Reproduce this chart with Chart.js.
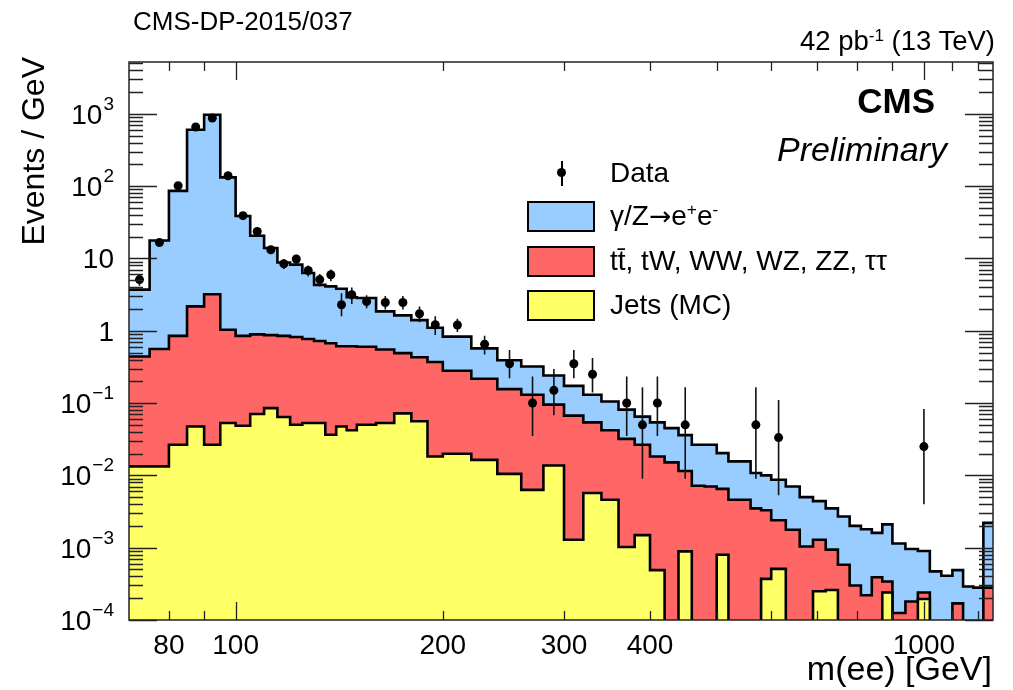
<!DOCTYPE html>
<html>
<head>
<meta charset="utf-8">
<title>m(ee) spectrum</title>
<script src="https://cdn.jsdelivr.net/npm/chart.js@4.4.1/dist/chart.umd.min.js"></script>
<style>
    body { margin: 0; background: #fff; }
    #wrap { position: relative; width: 1013px; height: 690px; overflow: hidden;
            font-family: "Liberation Sans", Arial, Helvetica, sans-serif; color: #000; }
    #mass-chart { position: absolute; left: 0; top: 0; }
    .txt { position: absolute; white-space: nowrap; line-height: 1; }
    .txt sup { font-size: 0.62em; position: relative; top: -0.55em; vertical-align: baseline; line-height: 0; }
    #label-dp { left: 133px; top: 8px; font-size: 26px; }
    #label-lumi { right: 18px; top: 27px; font-size: 27.5px; }
    #label-cms { right: 78px; top: 83px; font-size: 35px; font-weight: bold; }
    #label-prelim { right: 66px; top: 132px; font-size: 34px; font-style: italic; }
    #title-x { right: 21px; top: 651px; font-size: 34px; }
    #title-y { left: 17px; top: 257px; width: 200px; text-align: right; font-size: 32px;
               transform-origin: 0 0; transform: rotate(-90deg); }
    .lg-box { position: absolute; left: 527px; width: 68px; height: 31px;
              border: 2px solid #000; box-sizing: border-box; }
    .lg-text { position: absolute; left: 610px; font-size: 28px; line-height: 1; white-space: nowrap; }
    .lg-text sup { font-size: 0.62em; position: relative; top: -0.55em; vertical-align: baseline; line-height: 0; }
    .arrow { font-family: "DejaVu Sans", sans-serif; font-size: 0.95em; }
    #lg-dot { position: absolute; left: 557px; top: 168px; width: 9px; height: 9px; border-radius: 50%; background: #000; }
    #lg-bar { position: absolute; left: 561px; top: 161px; width: 1.6px; height: 25px; background: #000; }
</style>
</head>
<body>
<div id="wrap">
    <canvas id="mass-chart" width="1013" height="690"></canvas>

    <div class="txt" id="label-dp">CMS-DP-2015/037</div>
    <div class="txt" id="label-lumi">42 pb<sup>-1</sup> (13 TeV)</div>
    <div class="txt" id="label-cms">CMS</div>
    <div class="txt" id="label-prelim">Preliminary</div>

    <div id="lg-bar"></div>
    <div id="lg-dot"></div>
    <div class="lg-text" style="top: 159px;">Data</div>
    <div class="lg-box" style="top: 201px; background: #99ccff;"></div>
    <div class="lg-text" style="top: 202px;">γ/Z<span class="arrow">→</span>e<sup>+</sup>e<sup>-</sup></div>
    <div class="lg-box" style="top: 246px; background: #ff6666;"></div>
    <div class="lg-text" style="top: 247px;">tt̄, tW, WW, WZ, ZZ, ττ</div>
    <div class="lg-box" style="top: 290px; background: #ffff66;"></div>
    <div class="lg-text" style="top: 291px;">Jets (MC)</div>

    <div class="txt" id="title-y">Events / GeV</div>
    <div class="txt" id="title-x">m(ee) [GeV]</div>
</div>

<script>
// bin edges in GeV, widths grow with mass
const binEdges = [
    70, 75, 80, 85, 90, 95, 100, 105, 110, 115, 120, 125, 130, 135, 140, 145, 150,
    160, 170, 180, 190, 200,
    220, 240, 260, 280, 300, 320, 340, 360, 380, 400, 420, 440, 460, 480, 500, 520, 540, 560, 580, 600,
    630, 660, 690, 720, 750, 780, 810, 840, 870, 900,
    940, 980, 1020, 1060, 1100, 1140, 1180, 1220, 1260
];

// stacked heights (events / GeV): DY + ttbar-like + jets
const stackTotal = [
    3.7, 17.7, 86, 600, 970, 132, 38.6, 20.6, 13.9, 8.8, 8.2, 6.3, 4.3, 4.1, 3.8, 2.9,
    2.83, 1.85, 1.63, 1.4, 1.1,
    0.83, 0.57, 0.39, 0.32, 0.24, 0.173, 0.13, 0.105, 0.081, 0.065, 0.054, 0.045, 0.036, 0.0265, 0.0265, 0.0203, 0.0156, 0.0156, 0.0108, 0.0100,
    0.0087, 0.0070, 0.0050, 0.0044, 0.0035, 0.0027, 0.0020, 0.0018, 0.0016, 0.0021,
    0.00114, 0.00096, 0.0009, 0.00047, 0.00041, 0.00049, 0.00029, 0.00028, 0.0022
];

// ttbar, tW, dibosons, tautau + jets
const stackTop = [
    0.44, 0.56, 0.85, 2.17, 3.2, 1.03, 0.85, 0.89, 0.87, 0.85, 0.82, 0.77, 0.72, 0.67, 0.61, 0.61,
    0.60, 0.55, 0.49, 0.43, 0.37,
    0.28, 0.217, 0.156, 0.130, 0.095, 0.067, 0.054, 0.042, 0.032, 0.0265, 0.0182, 0.0151, 0.0115, 0.0072, 0.0070, 0.0065, 0.0046, 0.0046, 0.0035, 0.0033,
    0.0024, 0.00177, 0.00104, 0.00129, 0.00094, 0.00058, 0.0003, 0.00022, 0.00039, 0.00034,
    0.000125, 0.00018, 0.00024, 0, 0, 0.00017, 0, 0, 0.00028
];

// jets (MC) only
const stackJets = [
    0.0133, 0.0133, 0.0265, 0.0475, 0.0265, 0.053, 0.0485, 0.0705, 0.085, 0.064, 0.050, 0.053, 0.053, 0.0365, 0.0475, 0.042,
    0.050, 0.053, 0.072, 0.056, 0.0182,
    0.0199, 0.0164, 0.0105, 0.0063, 0.0137, 0.00129, 0.0057, 0.0046, 0.00102, 0.00149, 0.00049, 0, 0.00089, 0, 0, 0.0008, 0, 0, 0, 0.00037,
    0.00051, 0, 0, 0.00025, 0.00026, 0, 0, 0, 0, 0.00024,
    0, 0, 0.000195, 0, 0, 0, 0, 0, 0
];

// observed events / GeV, 0 = empty bin
const dataValues = [
    5.1, 16.6, 101, 657, 875, 139, 39, 23.6, 13.2, 8.45, 9.8, 6.8, 5.1, 5.95, 2.29, 3.15,
    2.54, 2.46, 2.46, 1.72, 1.21,
    1.2, 0.65, 0.35, 0.1, 0.15, 0.35, 0.25, 0, 0.1, 0.05, 0.1, 0, 0.05, 0, 0, 0, 0, 0, 0.05, 0,
    0.0333, 0, 0, 0, 0, 0, 0, 0, 0, 0,
    0, 0, 0.025, 0, 0, 0, 0, 0, 0
];

const dataErrUp = [
    1.0, 1.8, 4.5, 11.5, 13.2, 5.3, 2.8, 2.2, 1.6, 1.3, 1.4, 1.2, 1.0, 1.1, 1.0, 0.8,
    0.55, 0.55, 0.55, 0.45, 0.38,
    0.27, 0.2, 0.19, 0.132, 0.146, 0.19, 0.17, 0, 0.132, 0.115, 0.132, 0, 0.115, 0, 0, 0, 0, 0, 0.115, 0,
    0.077, 0, 0, 0, 0, 0, 0, 0, 0, 0,
    0, 0, 0.058, 0, 0, 0, 0, 0, 0
];

const dataErrDown = [
    0.9, 1.8, 4.5, 11.5, 13.2, 5.3, 2.8, 2.1, 1.6, 1.3, 1.4, 1.2, 1.0, 1.1, 0.7, 0.8,
    0.5, 0.5, 0.5, 0.41, 0.34,
    0.24, 0.18, 0.13, 0.065, 0.082, 0.13, 0.11, 0, 0.065, 0.041, 0.065, 0, 0.041, 0, 0, 0, 0, 0, 0.041, 0,
    0.028, 0, 0, 0, 0, 0, 0, 0, 0, 0,
    0, 0, 0.021, 0, 0, 0, 0, 0, 0
];

const xTickLabels = [80, 100, 200, 300, 400, 1000];
const yTickExponents = [-4, -3, -2, -1, 0, 1, 2, 3];

const FLOOR = 1e-6; // empty bins sit below the axis
const FONT = '"Liberation Sans", Arial, Helvetica, sans-serif';

function stepPoints(values) {
    const pts = values.map((v, i) => ({ x: binEdges[i], y: Math.max(v, FLOOR) }));
    pts.push({ x: binEdges[binEdges.length - 1], y: Math.max(values[values.length - 1], FLOOR) });
    return pts;
}

function histDataset(label, values, color) {
    return {
        label,
        data: stepPoints(values),
        stepped: true,
        fill: 'start',
        backgroundColor: color,
        borderColor: '#000',
        borderWidth: 2.6,
        borderJoinStyle: 'miter',
        pointRadius: 0
    };
}

const dataPoints = [];
dataValues.forEach((v, i) => {
    if (v > 0) {
        dataPoints.push({
            x: (binEdges[i] + binEdges[i + 1]) / 2,
            y: v,
            up: dataErrUp[i],
            down: dataErrDown[i]
        });
    }
});

// vertical error bars, painted just before the data markers
const errorBars = {
    id: 'errorBars',
    beforeDatasetDraw(chart, args) {
        if (args.index !== 0) return;
        const { ctx, chartArea, scales: { x, y } } = chart;
        ctx.save();
        ctx.beginPath();
        ctx.rect(chartArea.left, chartArea.top, chartArea.right - chartArea.left, chartArea.bottom - chartArea.top);
        ctx.clip();
        ctx.strokeStyle = '#111';
        ctx.lineWidth = 1.6;
        ctx.beginPath();
        dataPoints.forEach(p => {
            const px = x.getPixelForValue(p.x);
            const lo = Math.max(p.y - p.down, FLOOR);
            ctx.moveTo(px, y.getPixelForValue(p.y + p.up));
            ctx.lineTo(px, y.getPixelForValue(lo));
        });
        ctx.stroke();
        ctx.restore();
    }
};

// frame, inward ticks on all four sides, tick labels
const frameAxes = {
    id: 'frameAxes',
    afterDraw(chart) {
        const { ctx, chartArea: a, scales: { x, y } } = chart;
        ctx.save();
        ctx.strokeStyle = '#222';
        ctx.lineWidth = 1.3;
        ctx.beginPath();

        const xMajor = [100, 1000];
        const xMinor = [80, 90, 200, 300, 400, 500, 600, 700, 800, 900, 1100, 1200];
        xMajor.concat(xMinor).forEach(v => {
            const px = Math.round(x.getPixelForValue(v)) + 0.5;
            const len = xMajor.includes(v) ? 18 : 9;
            ctx.moveTo(px, a.bottom); ctx.lineTo(px, a.bottom - len);
            ctx.moveTo(px, a.top); ctx.lineTo(px, a.top + len);
        });

        for (let e = -4; e <= 3; e++) {
            for (let m = 1; m <= 9; m++) {
                const v = m * Math.pow(10, e);
                if (v > y.max) break;
                const py = Math.round(y.getPixelForValue(v)) + 0.5;
                const len = m === 1 ? 28 : 14;
                ctx.moveTo(a.left, py); ctx.lineTo(a.left + len, py);
                ctx.moveTo(a.right, py); ctx.lineTo(a.right - len, py);
            }
        }
        ctx.stroke();

        ctx.lineWidth = 1.5;
        ctx.strokeRect(a.left, a.top, a.right - a.left, a.bottom - a.top);

        ctx.fillStyle = '#000';
        ctx.textBaseline = 'alphabetic';
        ctx.textAlign = 'center';
        ctx.font = '28px ' + FONT;
        xTickLabels.forEach(v => {
            ctx.fillText(String(v), x.getPixelForValue(v), 654);
        });

        ctx.textAlign = 'right';
        const right = 114;
        yTickExponents.forEach(e => {
            const py = y.getPixelForValue(Math.pow(10, e));
            if (e === 0 || e === 1) {
                ctx.font = '28px ' + FONT;
                ctx.fillText(e === 0 ? '1' : '10', right, py + 10);
                return;
            }
            const sup = e < 0 ? '\u2212' + (-e) : String(e);
            ctx.font = '19px ' + FONT;
            const w = ctx.measureText(sup).width;
            ctx.fillText(sup, right, py - 4);
            ctx.font = '28px ' + FONT;
            ctx.fillText('10', right - w - 1, py + 10);
        });
        ctx.restore();
    }
};

document.addEventListener('DOMContentLoaded', () => {
    const ctx = document.getElementById('mass-chart').getContext('2d');
    new Chart(ctx, {
        type: 'line',
        data: {
            datasets: [
                {
                    label: 'Data',
                    data: dataPoints,
                    showLine: false,
                    pointRadius: 4.5,
                    pointBackgroundColor: '#000',
                    pointBorderWidth: 0
                },
                histDataset('Jets (MC)', stackJets, '#ffff66'),
                histDataset('tt, tW, WW, WZ, ZZ, tautau', stackTop, '#ff6666'),
                histDataset('DY ee', stackTotal, '#99ccff')
            ]
        },
        options: {
            responsive: false,
            animation: false,
            devicePixelRatio: 1,
            events: [],
            layout: { padding: { left: 129, right: 20, top: 62, bottom: 70 } },
            scales: {
                x: { type: 'logarithmic', min: 70, max: 1260, display: false },
                y: { type: 'logarithmic', min: 1e-4, max: 5200, display: false }
            },
            plugins: {
                legend: { display: false },
                tooltip: { enabled: false }
            }
        },
        plugins: [errorBars, frameAxes]
    });
});
</script>
</body>
</html>
